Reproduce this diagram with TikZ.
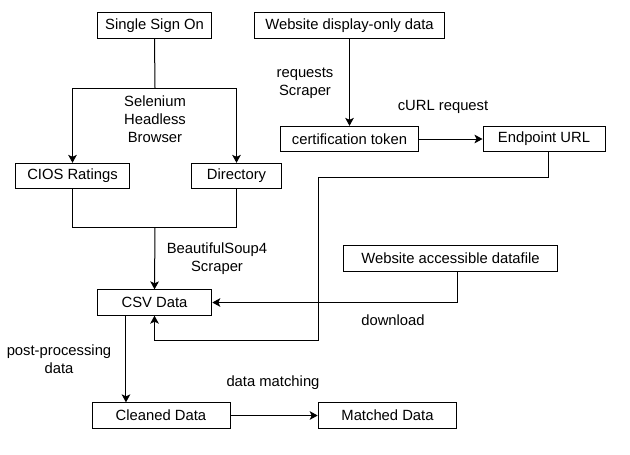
\documentclass[tikz,border=0pt]{standalone}
\usepackage{fontspec}
\setmainfont{Liberation Sans}
\usetikzlibrary{arrows.meta}

\tikzset{every picture/.style={line width=0.75pt}}
\tikzset{
  box/.style={draw, rectangle, inner sep=0pt, minimum height=19pt, font=\fontsize{11.1}{13.5}\selectfont},
  lbl/.style={inner sep=0.75pt, align=center, font=\fontsize{11.1}{13.5}\selectfont},
  flow/.style={-{Stealth[length=6pt,width=6.5pt,inset=1.5pt]}}
}

\begin{document}
\begin{tikzpicture}[x=0.75pt,y=0.75pt,yscale=-1,xscale=1]
\useasboundingbox (0,0) rectangle (630,454);

% Boxes
\node [box, minimum width=86pt] (sso) at (154.5,25.5) {Single Sign On};
\node [box, minimum width=142pt] (wdo) at (349.5,25.5) {Website display-only data};
\node [box, minimum width=86pt] (cios) at (72.5,176) {CIOS Ratings};
\node [box, minimum width=67pt] (dir) at (236.5,176) {Directory};
\node [box, minimum width=104pt] (cert) at (349.5,139) {certification token};
\node [box, minimum width=91.5pt] (endp) at (544,139) {Endpoint URL};
\node [box, minimum width=86pt] (csv) at (154.5,302.5) {CSV Data};
\node [box, minimum width=161pt] (wad) at (450.5,258.5) {Website accessible datafile};
\node [box, minimum width=103.5pt] (clean) at (161,415.5) {Cleaned Data};
\node [box, minimum width=104pt] (match) at (387.5,415.5) {Matched Data};

% Text Node
\node [lbl] (sel) at (155,119) {Selenium\\Headless\\Browser};
% Text Node
\node [lbl] (reqs) at (305,83) {requests\\Scraper};
% Text Node
\node [lbl] (curl) at (443,107) {cURL request};
% Text Node
\node [lbl] (bs4) at (217,258.5) {BeautifulSoup4\\Scraper};
% Text Node
\node [lbl] (dl) at (393,320) {download};
% Text Node
\node [lbl] (post) at (59,359) {post-processing\\data};
% Text Node
\node [lbl] (dm) at (273,383) {data matching};

% Corner points
\coordinate (split) at (155,88);
\coordinate (join) at (155,227);
\coordinate (turnA) at (318,177);
\coordinate (turnB) at (318,340);

%Straight Lines
\draw (sso.south) -- (split);
\draw [flow] (split) -| (cios.north);
\draw [flow] (split) -| (dir.north);
%Straight Lines
\draw (cios.south) |- (join);
\draw (dir.south) |- (join);
\draw [flow] (join) -- (csv.north);
%Straight Lines
\draw [flow] (wdo.south) -- (cert.north);
\draw [flow] (cert.east) -- (endp.west);
\draw [flow] ([xshift=3pt]endp.south) |- (turnA) -- (turnB) -| (csv.south);
%Straight Lines
\draw [flow] ([xshift=5pt]wad.south) |- (csv.east);
\draw [flow] ([xshift=-21.4pt]csv.south) -- ([xshift=-21.4pt]csv.south |- clean.north);
\draw [flow] (clean.east) -- (match.west);

\end{tikzpicture}
\end{document}
